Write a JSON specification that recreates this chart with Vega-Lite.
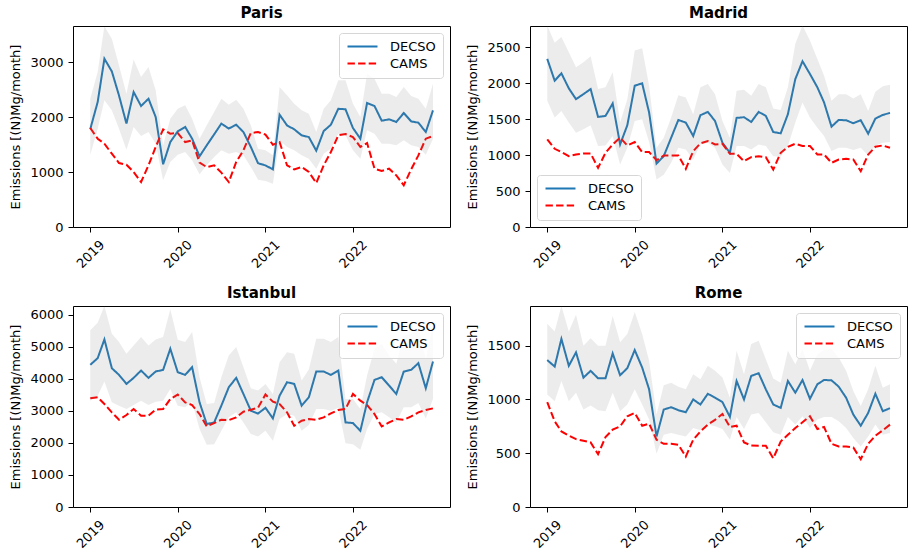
{
  "$schema": "https://vega.github.io/schema/vega-lite/v6.json",
  "padding": {"left": 9, "top": 5, "right": 5, "bottom": 5},
  "background": "white",
  "config": {
    "font": "DejaVu Sans",
    "view": {"stroke": "black", "strokeWidth": 1},
    "axis": {"domain": false, "grid": false, "tickColor": "black", "tickSize": 5, "labelPadding": 5, "labelFontSize": 13, "labelColor": "black", "labelFont": "DejaVu Sans", "labelOverlap": false, "titleFontSize": 13, "titleFontWeight": "normal", "titleColor": "black", "titleFont": "DejaVu Sans", "titlePadding": 7},
    "axisX": {"labelAngle": -45, "labelAlign": "center", "labelBaseline": "middle", "labelPadding": 22, "title": null},
    "title": {"fontSize": 15, "fontWeight": "bold", "font": "DejaVu Sans", "offset": 5, "color": "black"},
    "legend": {"offset": 7, "padding": 7, "fillColor": "rgba(255,255,255,0.8)", "strokeColor": "#d6d6d6", "cornerRadius": 3, "symbolType": "M-1,0H5", "symbolSize": 100, "symbolStrokeWidth": 2, "labelFontSize": 13, "labelFont": "DejaVu Sans", "labelColor": "black", "labelOffset": 31, "rowPadding": 3, "title": null}
  },
  "datasets": {
    "emis": [
      {"city":"Paris","date":"2019-01-01","DECSO":1780,"CAMS":1800,"lo":1315,"hi":2333},
      {"city":"Paris","date":"2019-02-01","DECSO":2273,"CAMS":1606,"lo":1788,"hi":2818},
      {"city":"Paris","date":"2019-03-01","DECSO":3060,"CAMS":1515,"lo":2303,"hi":3650},
      {"city":"Paris","date":"2019-04-01","DECSO":2830,"CAMS":1333,"lo":2121,"hi":3424},
      {"city":"Paris","date":"2019-05-01","DECSO":2390,"CAMS":1164,"lo":1788,"hi":2939},
      {"city":"Paris","date":"2019-06-01","DECSO":1880,"CAMS":1133,"lo":1406,"hi":2424},
      {"city":"Paris","date":"2019-07-01","DECSO":2455,"CAMS":1000,"lo":1818,"hi":3048},
      {"city":"Paris","date":"2019-08-01","DECSO":2200,"CAMS":818,"lo":1655,"hi":2727},
      {"city":"Paris","date":"2019-09-01","DECSO":2333,"CAMS":1121,"lo":1727,"hi":2909},
      {"city":"Paris","date":"2019-10-01","DECSO":2000,"CAMS":1455,"lo":1515,"hi":2485},
      {"city":"Paris","date":"2019-11-01","DECSO":1140,"CAMS":1776,"lo":848,"hi":1485},
      {"city":"Paris","date":"2019-12-01","DECSO":1545,"CAMS":1697,"lo":1182,"hi":1970},
      {"city":"Paris","date":"2020-01-01","DECSO":1740,"CAMS":1709,"lo":1315,"hi":2151},
      {"city":"Paris","date":"2020-02-01","DECSO":1820,"CAMS":1545,"lo":1364,"hi":2212},
      {"city":"Paris","date":"2020-03-01","DECSO":1606,"CAMS":1576,"lo":1212,"hi":1970},
      {"city":"Paris","date":"2020-04-01","DECSO":1285,"CAMS":1170,"lo":958,"hi":1606},
      {"city":"Paris","date":"2020-05-01","DECSO":1485,"CAMS":1090,"lo":1121,"hi":1848},
      {"city":"Paris","date":"2020-06-01","DECSO":1685,"CAMS":1121,"lo":1273,"hi":2091},
      {"city":"Paris","date":"2020-07-01","DECSO":1880,"CAMS":988,"lo":1394,"hi":2333},
      {"city":"Paris","date":"2020-08-01","DECSO":1790,"CAMS":818,"lo":1333,"hi":2224},
      {"city":"Paris","date":"2020-09-01","DECSO":1860,"CAMS":1182,"lo":1364,"hi":2315},
      {"city":"Paris","date":"2020-10-01","DECSO":1727,"CAMS":1394,"lo":1303,"hi":2151},
      {"city":"Paris","date":"2020-11-01","DECSO":1455,"CAMS":1709,"lo":1091,"hi":1848},
      {"city":"Paris","date":"2020-12-01","DECSO":1160,"CAMS":1727,"lo":861,"hi":1424},
      {"city":"Paris","date":"2021-01-01","DECSO":1120,"CAMS":1680,"lo":836,"hi":1394},
      {"city":"Paris","date":"2021-02-01","DECSO":1048,"CAMS":1497,"lo":788,"hi":1303},
      {"city":"Paris","date":"2021-03-01","DECSO":2042,"CAMS":1545,"lo":1576,"hi":2545},
      {"city":"Paris","date":"2021-04-01","DECSO":1848,"CAMS":1121,"lo":1455,"hi":2394},
      {"city":"Paris","date":"2021-05-01","DECSO":1776,"CAMS":1048,"lo":1394,"hi":2242},
      {"city":"Paris","date":"2021-06-01","DECSO":1667,"CAMS":1091,"lo":1303,"hi":2121},
      {"city":"Paris","date":"2021-07-01","DECSO":1636,"CAMS":1000,"lo":1242,"hi":2060},
      {"city":"Paris","date":"2021-08-01","DECSO":1388,"CAMS":800,"lo":1061,"hi":1727},
      {"city":"Paris","date":"2021-09-01","DECSO":1745,"CAMS":1121,"lo":1333,"hi":2151},
      {"city":"Paris","date":"2021-10-01","DECSO":1860,"CAMS":1364,"lo":1424,"hi":2303},
      {"city":"Paris","date":"2021-11-01","DECSO":2150,"CAMS":1667,"lo":1697,"hi":2667},
      {"city":"Paris","date":"2021-12-01","DECSO":2140,"CAMS":1691,"lo":1667,"hi":2667},
      {"city":"Paris","date":"2022-01-01","DECSO":1800,"CAMS":1636,"lo":1394,"hi":2242},
      {"city":"Paris","date":"2022-02-01","DECSO":1606,"CAMS":1455,"lo":1242,"hi":2000},
      {"city":"Paris","date":"2022-03-01","DECSO":2255,"CAMS":1527,"lo":1758,"hi":2788},
      {"city":"Paris","date":"2022-04-01","DECSO":2200,"CAMS":1061,"lo":1697,"hi":2697},
      {"city":"Paris","date":"2022-05-01","DECSO":1933,"CAMS":1018,"lo":1515,"hi":2424},
      {"city":"Paris","date":"2022-06-01","DECSO":1958,"CAMS":1061,"lo":1515,"hi":2424},
      {"city":"Paris","date":"2022-07-01","DECSO":1910,"CAMS":939,"lo":1485,"hi":2364},
      {"city":"Paris","date":"2022-08-01","DECSO":2073,"CAMS":758,"lo":1576,"hi":2545},
      {"city":"Paris","date":"2022-09-01","DECSO":1920,"CAMS":1048,"lo":1485,"hi":2382},
      {"city":"Paris","date":"2022-10-01","DECSO":1897,"CAMS":1303,"lo":1455,"hi":2333},
      {"city":"Paris","date":"2022-11-01","DECSO":1727,"CAMS":1606,"lo":1315,"hi":2151},
      {"city":"Paris","date":"2022-12-01","DECSO":2121,"CAMS":1655,"lo":1606,"hi":2606},
      {"city":"Madrid","date":"2019-01-01","DECSO":2337,"CAMS":1218,"lo":1754,"hi":2800},
      {"city":"Madrid","date":"2019-02-01","DECSO":2034,"CAMS":1087,"lo":1521,"hi":2561},
      {"city":"Madrid","date":"2019-03-01","DECSO":2136,"CAMS":1041,"lo":1614,"hi":2640},
      {"city":"Madrid","date":"2019-04-01","DECSO":1927,"CAMS":985,"lo":1451,"hi":2430},
      {"city":"Madrid","date":"2019-05-01","DECSO":1777,"CAMS":1008,"lo":1311,"hi":2220},
      {"city":"Madrid","date":"2019-06-01","DECSO":1847,"CAMS":1022,"lo":1358,"hi":2290},
      {"city":"Madrid","date":"2019-07-01","DECSO":1917,"CAMS":1022,"lo":1414,"hi":2374},
      {"city":"Madrid","date":"2019-08-01","DECSO":1530,"CAMS":822,"lo":1125,"hi":1917},
      {"city":"Madrid","date":"2019-09-01","DECSO":1544,"CAMS":1031,"lo":1134,"hi":1941},
      {"city":"Madrid","date":"2019-10-01","DECSO":1717,"CAMS":1148,"lo":1265,"hi":2150},
      {"city":"Madrid","date":"2019-11-01","DECSO":1148,"CAMS":1241,"lo":868,"hi":1451},
      {"city":"Madrid","date":"2019-12-01","DECSO":1414,"CAMS":1134,"lo":1101,"hi":1777},
      {"city":"Madrid","date":"2020-01-01","DECSO":1964,"CAMS":1181,"lo":1474,"hi":2453},
      {"city":"Madrid","date":"2020-02-01","DECSO":1997,"CAMS":1041,"lo":1498,"hi":2486},
      {"city":"Madrid","date":"2020-03-01","DECSO":1591,"CAMS":1041,"lo":1181,"hi":1964},
      {"city":"Madrid","date":"2020-04-01","DECSO":882,"CAMS":929,"lo":659,"hi":1101},
      {"city":"Madrid","date":"2020-05-01","DECSO":985,"CAMS":994,"lo":728,"hi":1241},
      {"city":"Madrid","date":"2020-06-01","DECSO":1241,"CAMS":994,"lo":892,"hi":1521},
      {"city":"Madrid","date":"2020-07-01","DECSO":1488,"CAMS":994,"lo":1101,"hi":1833},
      {"city":"Madrid","date":"2020-08-01","DECSO":1451,"CAMS":808,"lo":1078,"hi":1801},
      {"city":"Madrid","date":"2020-09-01","DECSO":1265,"CAMS":1055,"lo":938,"hi":1568},
      {"city":"Madrid","date":"2020-10-01","DECSO":1554,"CAMS":1162,"lo":1148,"hi":1941},
      {"city":"Madrid","date":"2020-11-01","DECSO":1600,"CAMS":1195,"lo":1171,"hi":1987},
      {"city":"Madrid","date":"2020-12-01","DECSO":1474,"CAMS":1148,"lo":1101,"hi":1847},
      {"city":"Madrid","date":"2021-01-01","DECSO":1171,"CAMS":1155,"lo":868,"hi":1474},
      {"city":"Madrid","date":"2021-02-01","DECSO":1031,"CAMS":1017,"lo":752,"hi":1241},
      {"city":"Madrid","date":"2021-03-01","DECSO":1516,"CAMS":1017,"lo":1125,"hi":1894},
      {"city":"Madrid","date":"2021-04-01","DECSO":1526,"CAMS":915,"lo":1125,"hi":1908},
      {"city":"Madrid","date":"2021-05-01","DECSO":1460,"CAMS":971,"lo":1078,"hi":1824},
      {"city":"Madrid","date":"2021-06-01","DECSO":1600,"CAMS":985,"lo":1148,"hi":1987},
      {"city":"Madrid","date":"2021-07-01","DECSO":1544,"CAMS":971,"lo":1125,"hi":1941},
      {"city":"Madrid","date":"2021-08-01","DECSO":1320,"CAMS":799,"lo":985,"hi":1647},
      {"city":"Madrid","date":"2021-09-01","DECSO":1302,"CAMS":1031,"lo":975,"hi":1628},
      {"city":"Madrid","date":"2021-10-01","DECSO":1568,"CAMS":1115,"lo":1125,"hi":1941},
      {"city":"Madrid","date":"2021-11-01","DECSO":2057,"CAMS":1157,"lo":1451,"hi":2547},
      {"city":"Madrid","date":"2021-12-01","DECSO":2304,"CAMS":1125,"lo":1731,"hi":2800},
      {"city":"Madrid","date":"2022-01-01","DECSO":2127,"CAMS":1125,"lo":1521,"hi":2594},
      {"city":"Madrid","date":"2022-02-01","DECSO":1941,"CAMS":1008,"lo":1381,"hi":2337},
      {"city":"Madrid","date":"2022-03-01","DECSO":1731,"CAMS":1008,"lo":1265,"hi":2104},
      {"city":"Madrid","date":"2022-04-01","DECSO":1395,"CAMS":892,"lo":1055,"hi":1754},
      {"city":"Madrid","date":"2022-05-01","DECSO":1488,"CAMS":938,"lo":1101,"hi":1847},
      {"city":"Madrid","date":"2022-06-01","DECSO":1484,"CAMS":948,"lo":1101,"hi":1847},
      {"city":"Madrid","date":"2022-07-01","DECSO":1442,"CAMS":938,"lo":1069,"hi":1787},
      {"city":"Madrid","date":"2022-08-01","DECSO":1484,"CAMS":775,"lo":1101,"hi":1847},
      {"city":"Madrid","date":"2022-09-01","DECSO":1297,"CAMS":1008,"lo":994,"hi":1614},
      {"city":"Madrid","date":"2022-10-01","DECSO":1507,"CAMS":1115,"lo":1134,"hi":1880},
      {"city":"Madrid","date":"2022-11-01","DECSO":1558,"CAMS":1134,"lo":1171,"hi":1955},
      {"city":"Madrid","date":"2022-12-01","DECSO":1586,"CAMS":1101,"lo":1181,"hi":1978},
      {"city":"Istanbul","date":"2019-01-01","DECSO":4434,"CAMS":3391,"lo":3318,"hi":5510},
      {"city":"Istanbul","date":"2019-02-01","DECSO":4643,"CAMS":3422,"lo":3474,"hi":5750},
      {"city":"Istanbul","date":"2019-03-01","DECSO":5228,"CAMS":3213,"lo":3913,"hi":6270},
      {"city":"Istanbul","date":"2019-04-01","DECSO":4330,"CAMS":2952,"lo":3265,"hi":5405},
      {"city":"Istanbul","date":"2019-05-01","DECSO":4121,"CAMS":2723,"lo":3161,"hi":5144},
      {"city":"Istanbul","date":"2019-06-01","DECSO":3840,"CAMS":2869,"lo":3056,"hi":4779},
      {"city":"Istanbul","date":"2019-07-01","DECSO":4028,"CAMS":3056,"lo":3182,"hi":5040},
      {"city":"Istanbul","date":"2019-08-01","DECSO":4257,"CAMS":2848,"lo":3318,"hi":5301},
      {"city":"Istanbul","date":"2019-09-01","DECSO":4028,"CAMS":2848,"lo":3182,"hi":5040},
      {"city":"Istanbul","date":"2019-10-01","DECSO":4226,"CAMS":3036,"lo":3286,"hi":5228},
      {"city":"Istanbul","date":"2019-11-01","DECSO":4278,"CAMS":3056,"lo":3318,"hi":5301},
      {"city":"Istanbul","date":"2019-12-01","DECSO":4936,"CAMS":3370,"lo":3683,"hi":6168},
      {"city":"Istanbul","date":"2020-01-01","DECSO":4205,"CAMS":3506,"lo":3161,"hi":5218},
      {"city":"Istanbul","date":"2020-02-01","DECSO":4121,"CAMS":3265,"lo":3109,"hi":5144},
      {"city":"Istanbul","date":"2020-03-01","DECSO":4362,"CAMS":3182,"lo":3286,"hi":5458},
      {"city":"Istanbul","date":"2020-04-01","DECSO":3265,"CAMS":2900,"lo":2430,"hi":4048},
      {"city":"Istanbul","date":"2020-05-01","DECSO":2587,"CAMS":2514,"lo":1940,"hi":3213},
      {"city":"Istanbul","date":"2020-06-01","DECSO":2639,"CAMS":2618,"lo":1960,"hi":3245},
      {"city":"Istanbul","date":"2020-07-01","DECSO":3161,"CAMS":2723,"lo":2378,"hi":4048},
      {"city":"Istanbul","date":"2020-08-01","DECSO":3735,"CAMS":2712,"lo":2796,"hi":4727},
      {"city":"Istanbul","date":"2020-09-01","DECSO":4028,"CAMS":2796,"lo":2952,"hi":4988},
      {"city":"Istanbul","date":"2020-10-01","DECSO":3527,"CAMS":2973,"lo":2639,"hi":4362},
      {"city":"Istanbul","date":"2020-11-01","DECSO":3004,"CAMS":3036,"lo":2274,"hi":3704},
      {"city":"Istanbul","date":"2020-12-01","DECSO":2915,"CAMS":3100,"lo":2200,"hi":3631},
      {"city":"Istanbul","date":"2021-01-01","DECSO":3095,"CAMS":3510,"lo":2378,"hi":3840},
      {"city":"Istanbul","date":"2021-02-01","DECSO":2764,"CAMS":3286,"lo":2065,"hi":3527},
      {"city":"Istanbul","date":"2021-03-01","DECSO":3474,"CAMS":3213,"lo":2743,"hi":4518},
      {"city":"Istanbul","date":"2021-04-01","DECSO":3892,"CAMS":2952,"lo":2900,"hi":4831},
      {"city":"Istanbul","date":"2021-05-01","DECSO":3840,"CAMS":2535,"lo":2848,"hi":4779},
      {"city":"Istanbul","date":"2021-06-01","DECSO":3161,"CAMS":2691,"lo":2378,"hi":3944},
      {"city":"Istanbul","date":"2021-07-01","DECSO":3422,"CAMS":2743,"lo":2556,"hi":4289},
      {"city":"Istanbul","date":"2021-08-01","DECSO":4226,"CAMS":2723,"lo":3056,"hi":5249},
      {"city":"Istanbul","date":"2021-09-01","DECSO":4226,"CAMS":2796,"lo":3056,"hi":5249},
      {"city":"Istanbul","date":"2021-10-01","DECSO":4121,"CAMS":2921,"lo":3004,"hi":5144},
      {"city":"Istanbul","date":"2021-11-01","DECSO":4257,"CAMS":3025,"lo":3088,"hi":5301},
      {"city":"Istanbul","date":"2021-12-01","DECSO":2639,"CAMS":3056,"lo":1992,"hi":3370},
      {"city":"Istanbul","date":"2022-01-01","DECSO":2618,"CAMS":3527,"lo":1960,"hi":3370},
      {"city":"Istanbul","date":"2022-02-01","DECSO":2378,"CAMS":3317,"lo":1783,"hi":3056},
      {"city":"Istanbul","date":"2022-03-01","DECSO":3265,"CAMS":3182,"lo":2430,"hi":4100},
      {"city":"Istanbul","date":"2022-04-01","DECSO":3965,"CAMS":2900,"lo":2900,"hi":4936},
      {"city":"Istanbul","date":"2022-05-01","DECSO":4048,"CAMS":2514,"lo":2952,"hi":5092},
      {"city":"Istanbul","date":"2022-06-01","DECSO":3787,"CAMS":2639,"lo":2796,"hi":4727},
      {"city":"Istanbul","date":"2022-07-01","DECSO":3527,"CAMS":2743,"lo":2639,"hi":4466},
      {"city":"Istanbul","date":"2022-08-01","DECSO":4226,"CAMS":2723,"lo":3109,"hi":5353},
      {"city":"Istanbul","date":"2022-09-01","DECSO":4278,"CAMS":2827,"lo":3109,"hi":5405},
      {"city":"Istanbul","date":"2022-10-01","DECSO":4487,"CAMS":2952,"lo":3245,"hi":5614},
      {"city":"Istanbul","date":"2022-11-01","DECSO":3704,"CAMS":3025,"lo":2764,"hi":4622},
      {"city":"Istanbul","date":"2022-12-01","DECSO":4539,"CAMS":3078,"lo":3370,"hi":5718},
      {"city":"Rome","date":"2019-01-01","DECSO":1366,"CAMS":975,"lo":1047,"hi":1703},
      {"city":"Rome","date":"2019-02-01","DECSO":1306,"CAMS":797,"lo":984,"hi":1631},
      {"city":"Rome","date":"2019-03-01","DECSO":1563,"CAMS":703,"lo":1172,"hi":1869},
      {"city":"Rome","date":"2019-04-01","DECSO":1313,"CAMS":663,"lo":984,"hi":1631},
      {"city":"Rome","date":"2019-05-01","DECSO":1438,"CAMS":631,"lo":1063,"hi":1788},
      {"city":"Rome","date":"2019-06-01","DECSO":1203,"CAMS":616,"lo":906,"hi":1500},
      {"city":"Rome","date":"2019-07-01","DECSO":1266,"CAMS":600,"lo":944,"hi":1569},
      {"city":"Rome","date":"2019-08-01","DECSO":1197,"CAMS":491,"lo":900,"hi":1500},
      {"city":"Rome","date":"2019-09-01","DECSO":1197,"CAMS":650,"lo":891,"hi":1500},
      {"city":"Rome","date":"2019-10-01","DECSO":1428,"CAMS":719,"lo":1063,"hi":1775},
      {"city":"Rome","date":"2019-11-01","DECSO":1225,"CAMS":750,"lo":891,"hi":1531},
      {"city":"Rome","date":"2019-12-01","DECSO":1291,"CAMS":844,"lo":953,"hi":1609},
      {"city":"Rome","date":"2020-01-01","DECSO":1459,"CAMS":875,"lo":1094,"hi":1813},
      {"city":"Rome","date":"2020-02-01","DECSO":1297,"CAMS":756,"lo":953,"hi":1609},
      {"city":"Rome","date":"2020-03-01","DECSO":1094,"CAMS":775,"lo":813,"hi":1359},
      {"city":"Rome","date":"2020-04-01","DECSO":656,"CAMS":625,"lo":494,"hi":859},
      {"city":"Rome","date":"2020-05-01","DECSO":906,"CAMS":588,"lo":672,"hi":1131},
      {"city":"Rome","date":"2020-06-01","DECSO":928,"CAMS":588,"lo":688,"hi":1156},
      {"city":"Rome","date":"2020-07-01","DECSO":900,"CAMS":578,"lo":672,"hi":1119},
      {"city":"Rome","date":"2020-08-01","DECSO":881,"CAMS":469,"lo":656,"hi":1094},
      {"city":"Rome","date":"2020-09-01","DECSO":1000,"CAMS":625,"lo":734,"hi":1234},
      {"city":"Rome","date":"2020-10-01","DECSO":953,"CAMS":703,"lo":713,"hi":1188},
      {"city":"Rome","date":"2020-11-01","DECSO":1053,"CAMS":766,"lo":766,"hi":1313},
      {"city":"Rome","date":"2020-12-01","DECSO":1016,"CAMS":810,"lo":750,"hi":1266},
      {"city":"Rome","date":"2021-01-01","DECSO":975,"CAMS":865,"lo":725,"hi":1203},
      {"city":"Rome","date":"2021-02-01","DECSO":838,"CAMS":744,"lo":625,"hi":1016},
      {"city":"Rome","date":"2021-03-01","DECSO":1172,"CAMS":756,"lo":838,"hi":1453},
      {"city":"Rome","date":"2021-04-01","DECSO":1000,"CAMS":600,"lo":725,"hi":1234},
      {"city":"Rome","date":"2021-05-01","DECSO":1219,"CAMS":572,"lo":859,"hi":1516},
      {"city":"Rome","date":"2021-06-01","DECSO":1244,"CAMS":569,"lo":875,"hi":1547},
      {"city":"Rome","date":"2021-07-01","DECSO":1094,"CAMS":569,"lo":788,"hi":1375},
      {"city":"Rome","date":"2021-08-01","DECSO":953,"CAMS":453,"lo":694,"hi":1194},
      {"city":"Rome","date":"2021-09-01","DECSO":922,"CAMS":609,"lo":672,"hi":1156},
      {"city":"Rome","date":"2021-10-01","DECSO":1172,"CAMS":672,"lo":838,"hi":1453},
      {"city":"Rome","date":"2021-11-01","DECSO":1063,"CAMS":734,"lo":766,"hi":1328},
      {"city":"Rome","date":"2021-12-01","DECSO":1181,"CAMS":788,"lo":844,"hi":1469},
      {"city":"Rome","date":"2022-01-01","DECSO":1006,"CAMS":844,"lo":734,"hi":1266},
      {"city":"Rome","date":"2022-02-01","DECSO":1141,"CAMS":725,"lo":813,"hi":1422},
      {"city":"Rome","date":"2022-03-01","DECSO":1181,"CAMS":744,"lo":838,"hi":1463},
      {"city":"Rome","date":"2022-04-01","DECSO":1178,"CAMS":588,"lo":838,"hi":1469},
      {"city":"Rome","date":"2022-05-01","DECSO":1119,"CAMS":563,"lo":797,"hi":1391},
      {"city":"Rome","date":"2022-06-01","DECSO":1016,"CAMS":563,"lo":734,"hi":1266},
      {"city":"Rome","date":"2022-07-01","DECSO":859,"CAMS":553,"lo":641,"hi":1078},
      {"city":"Rome","date":"2022-08-01","DECSO":756,"CAMS":444,"lo":563,"hi":938},
      {"city":"Rome","date":"2022-09-01","DECSO":875,"CAMS":588,"lo":656,"hi":1094},
      {"city":"Rome","date":"2022-10-01","DECSO":1053,"CAMS":663,"lo":766,"hi":1313},
      {"city":"Rome","date":"2022-11-01","DECSO":891,"CAMS":713,"lo":672,"hi":1109},
      {"city":"Rome","date":"2022-12-01","DECSO":919,"CAMS":766,"lo":688,"hi":1141}
    ]
  },
  "data": {"name": "emis"},
  "columns": 2,
  "spacing": {"row": 79, "column": 80},
  "bounds": "flush",
  "resolve": {"scale": {"x": "independent", "y": "independent", "color": "independent", "strokeDash": "independent"}, "legend": {"color": "independent", "strokeDash": "independent"}},
  "concat": [
    {
      "title": "Paris", "width": 377, "height": 201,
      "transform": [{"filter": {"field": "city", "equal": "Paris"}}],
      "layer": [
        {"transform": [{"fold": ["DECSO", "CAMS"], "as": ["series", "value"]}],
         "mark": {"type": "line", "strokeWidth": 2},
         "encoding": {
           "x": {"field": "date", "type": "temporal", "scale": {"type": "utc", "domain": [{"year": 2018, "month": 10, "date": 21, "utc": true}, {"year": 2023, "month": 2, "date": 10, "utc": true}]}, "axis": {"format": "%Y", "values": [{"year": 2019, "month": 1, "date": 1, "utc": true}, {"year": 2020, "month": 1, "date": 1, "utc": true}, {"year": 2021, "month": 1, "date": 1, "utc": true}, {"year": 2022, "month": 1, "date": 1, "utc": true}]}},
           "y": {"field": "value", "type": "quantitative", "scale": {"domain": [0, 3655], "nice": false}, "axis": {"title": "Emissions [(N)Mg/month]", "values": [0, 1000, 2000, 3000], "format": "d"}},
           "color": {"field": "series", "type": "nominal", "scale": {"domain": ["DECSO", "CAMS"], "range": ["#1f77b4", "#ff0000"]}, "legend": {"orient": "top-right"}},
           "strokeDash": {"field": "series", "type": "nominal", "scale": {"domain": ["DECSO", "CAMS"], "range": [[1, 0], [7.4, 3.2]]}, "legend": {"orient": "top-right"}}
         }},
        {"mark": {"type": "area", "color": "#808080", "opacity": 0.15, "clip": true},
         "encoding": {"x": {"field": "date", "type": "temporal", "axis": {"format": "%Y", "values": [{"year": 2019, "month": 1, "date": 1, "utc": true}, {"year": 2020, "month": 1, "date": 1, "utc": true}, {"year": 2021, "month": 1, "date": 1, "utc": true}, {"year": 2022, "month": 1, "date": 1, "utc": true}]}}, "y": {"field": "lo", "type": "quantitative", "axis": {"title": "Emissions [(N)Mg/month]", "values": [0, 1000, 2000, 3000], "format": "d"}}, "y2": {"field": "hi"}}}
      ]
    },
    {
      "title": "Madrid", "width": 377, "height": 201,
      "transform": [{"filter": {"field": "city", "equal": "Madrid"}}],
      "layer": [
        {"transform": [{"fold": ["DECSO", "CAMS"], "as": ["series", "value"]}],
         "mark": {"type": "line", "strokeWidth": 2},
         "encoding": {
           "x": {"field": "date", "type": "temporal", "scale": {"type": "utc", "domain": [{"year": 2018, "month": 10, "date": 21, "utc": true}, {"year": 2023, "month": 2, "date": 10, "utc": true}]}, "axis": {"format": "%Y", "values": [{"year": 2019, "month": 1, "date": 1, "utc": true}, {"year": 2020, "month": 1, "date": 1, "utc": true}, {"year": 2021, "month": 1, "date": 1, "utc": true}, {"year": 2022, "month": 1, "date": 1, "utc": true}]}},
           "y": {"field": "value", "type": "quantitative", "scale": {"domain": [0, 2794], "nice": false}, "axis": {"title": "Emissions [(N)Mg/month]", "values": [0, 500, 1000, 1500, 2000, 2500], "format": "d"}},
           "color": {"field": "series", "type": "nominal", "scale": {"domain": ["DECSO", "CAMS"], "range": ["#1f77b4", "#ff0000"]}, "legend": {"orient": "bottom-left"}},
           "strokeDash": {"field": "series", "type": "nominal", "scale": {"domain": ["DECSO", "CAMS"], "range": [[1, 0], [7.4, 3.2]]}, "legend": {"orient": "bottom-left"}}
         }},
        {"mark": {"type": "area", "color": "#808080", "opacity": 0.15, "clip": true},
         "encoding": {"x": {"field": "date", "type": "temporal", "axis": {"format": "%Y", "values": [{"year": 2019, "month": 1, "date": 1, "utc": true}, {"year": 2020, "month": 1, "date": 1, "utc": true}, {"year": 2021, "month": 1, "date": 1, "utc": true}, {"year": 2022, "month": 1, "date": 1, "utc": true}]}}, "y": {"field": "lo", "type": "quantitative", "axis": {"title": "Emissions [(N)Mg/month]", "values": [0, 500, 1000, 1500, 2000, 2500], "format": "d"}}, "y2": {"field": "hi"}}}
      ]
    },
    {
      "title": "Istanbul", "width": 377, "height": 201,
      "transform": [{"filter": {"field": "city", "equal": "Istanbul"}}],
      "layer": [
        {"transform": [{"fold": ["DECSO", "CAMS"], "as": ["series", "value"]}],
         "mark": {"type": "line", "strokeWidth": 2},
         "encoding": {
           "x": {"field": "date", "type": "temporal", "scale": {"type": "utc", "domain": [{"year": 2018, "month": 10, "date": 21, "utc": true}, {"year": 2023, "month": 2, "date": 10, "utc": true}]}, "axis": {"format": "%Y", "values": [{"year": 2019, "month": 1, "date": 1, "utc": true}, {"year": 2020, "month": 1, "date": 1, "utc": true}, {"year": 2021, "month": 1, "date": 1, "utc": true}, {"year": 2022, "month": 1, "date": 1, "utc": true}]}},
           "y": {"field": "value", "type": "quantitative", "scale": {"domain": [0, 6270], "nice": false}, "axis": {"title": "Emissions [(N)Mg/month]", "values": [0, 1000, 2000, 3000, 4000, 5000, 6000], "format": "d"}},
           "color": {"field": "series", "type": "nominal", "scale": {"domain": ["DECSO", "CAMS"], "range": ["#1f77b4", "#ff0000"]}, "legend": {"orient": "top-right"}},
           "strokeDash": {"field": "series", "type": "nominal", "scale": {"domain": ["DECSO", "CAMS"], "range": [[1, 0], [7.4, 3.2]]}, "legend": {"orient": "top-right"}}
         }},
        {"mark": {"type": "area", "color": "#808080", "opacity": 0.15, "clip": true},
         "encoding": {"x": {"field": "date", "type": "temporal", "axis": {"format": "%Y", "values": [{"year": 2019, "month": 1, "date": 1, "utc": true}, {"year": 2020, "month": 1, "date": 1, "utc": true}, {"year": 2021, "month": 1, "date": 1, "utc": true}, {"year": 2022, "month": 1, "date": 1, "utc": true}]}}, "y": {"field": "lo", "type": "quantitative", "axis": {"title": "Emissions [(N)Mg/month]", "values": [0, 1000, 2000, 3000, 4000, 5000, 6000], "format": "d"}}, "y2": {"field": "hi"}}}
      ]
    },
    {
      "title": "Rome", "width": 377, "height": 201,
      "transform": [{"filter": {"field": "city", "equal": "Rome"}}],
      "layer": [
        {"transform": [{"fold": ["DECSO", "CAMS"], "as": ["series", "value"]}],
         "mark": {"type": "line", "strokeWidth": 2},
         "encoding": {
           "x": {"field": "date", "type": "temporal", "scale": {"type": "utc", "domain": [{"year": 2018, "month": 10, "date": 21, "utc": true}, {"year": 2023, "month": 2, "date": 10, "utc": true}]}, "axis": {"format": "%Y", "values": [{"year": 2019, "month": 1, "date": 1, "utc": true}, {"year": 2020, "month": 1, "date": 1, "utc": true}, {"year": 2021, "month": 1, "date": 1, "utc": true}, {"year": 2022, "month": 1, "date": 1, "utc": true}]}},
           "y": {"field": "value", "type": "quantitative", "scale": {"domain": [0, 1869], "nice": false}, "axis": {"title": "Emissions [(N)Mg/month]", "values": [0, 500, 1000, 1500], "format": "d"}},
           "color": {"field": "series", "type": "nominal", "scale": {"domain": ["DECSO", "CAMS"], "range": ["#1f77b4", "#ff0000"]}, "legend": {"orient": "top-right"}},
           "strokeDash": {"field": "series", "type": "nominal", "scale": {"domain": ["DECSO", "CAMS"], "range": [[1, 0], [7.4, 3.2]]}, "legend": {"orient": "top-right"}}
         }},
        {"mark": {"type": "area", "color": "#808080", "opacity": 0.15, "clip": true},
         "encoding": {"x": {"field": "date", "type": "temporal", "axis": {"format": "%Y", "values": [{"year": 2019, "month": 1, "date": 1, "utc": true}, {"year": 2020, "month": 1, "date": 1, "utc": true}, {"year": 2021, "month": 1, "date": 1, "utc": true}, {"year": 2022, "month": 1, "date": 1, "utc": true}]}}, "y": {"field": "lo", "type": "quantitative", "axis": {"title": "Emissions [(N)Mg/month]", "values": [0, 500, 1000, 1500], "format": "d"}}, "y2": {"field": "hi"}}}
      ]
    }
  ]
}
